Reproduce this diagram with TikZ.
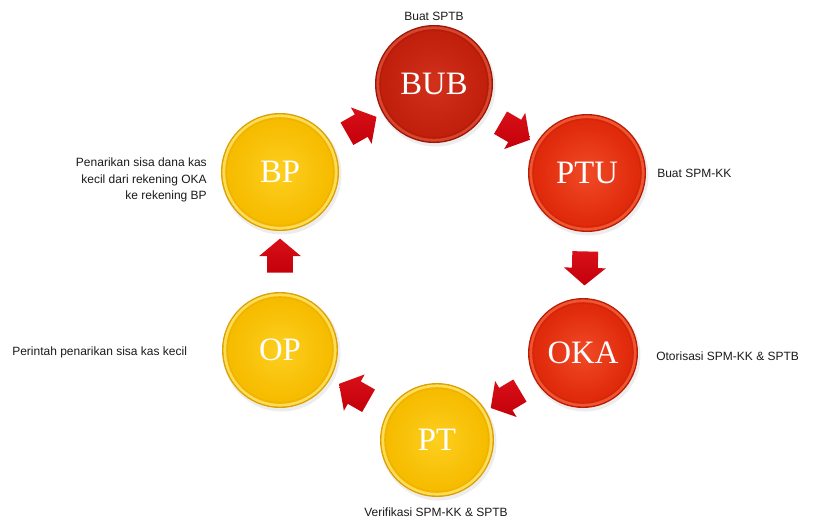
\documentclass[tikz,border=0pt]{standalone}
\usepackage{fontspec}
\setmainfont{Liberation Sans}
\newfontfamily\btnfont{Liberation Serif}
\usetikzlibrary{shapes.arrows,calc}
\pgfdeclarelayer{background}
\pgfsetlayers{background,main}

% button colours: A centre, B face, C inner shadow, D bevel light, E outer edge
\definecolor{bubA}{HTML}{D2321C}
\definecolor{bubB}{HTML}{C0200C}
\definecolor{bubC}{HTML}{A61806}
\definecolor{bubD}{HTML}{D8442C}
\definecolor{bubE}{HTML}{9A1608}
\definecolor{redA}{HTML}{F04A26}
\definecolor{redB}{HTML}{E02A0C}
\definecolor{redC}{HTML}{C22008}
\definecolor{redD}{HTML}{F05430}
\definecolor{redE}{HTML}{B81C06}
\definecolor{yelA}{HTML}{FDCF20}
\definecolor{yelB}{HTML}{F6BC00}
\definecolor{yelC}{HTML}{E6A600}
\definecolor{yelD}{HTML}{FDDC58}
\definecolor{yelE}{HTML}{DCA000}
\definecolor{arrowred}{HTML}{C4000A}
\definecolor{arrowlight}{HTML}{D81018}
\definecolor{labeltext}{HTML}{1A1A1A}

\begin{document}
\begin{tikzpicture}[x=0.75pt,y=-0.75pt,
  button/.style={circle, inner sep=0pt, minimum size=#1*0.75pt,
    text=white, font=\btnfont\fontsize{24.5}{26}\selectfont},
  blockarrow/.style={single arrow, draw=none,
    top color=arrowlight, bottom color=arrowred, shading angle=0,
    inner xsep=0pt, inner ysep=9.5pt, minimum height=25.5pt,
    single arrow head extend=6pt, single arrow tip angle=100},
  caption/.style={font=\fontsize{9}{12}\selectfont, text=labeltext,
    inner sep=0pt, align=#1},
  caption/.default=center]

\useasboundingbox (0,0) rectangle (816,522);

% process steps
\node[button=118] (bub) at (434,84)  {BUB};
\node[button=118] (ptu) at (587,173) {PTU};
\node[button=110] (oka) at (583,353) {OKA};
\node[button=114] (pt)  at (437,440) {PT};
\node[button=116] (op)  at (280,350) {OP};
\node[button=118] (bp)  at (280,172) {BP};

% button faces with bevelled rim
\begin{pgfonlayer}{background}
\foreach \n/\r/\k in {bub/59/bub, ptu/59/red, oka/55/red,
                      pt/57/yel, op/58/yel, bp/59/yel} {
  \fill[black, opacity=0.07] ($(\n)+(1.5,2.5)$) circle[radius=\r+1];
  \fill[\k E] (\n) circle[radius=\r];
  \fill[\k D] (\n) circle[radius=\r-1.4];
  \fill[\k B] (\n) circle[radius=\r-4.2];
  \shade[inner color=\k A, outer color=\k B] (\n) circle[radius=\r-9];
  \draw[\k C, line width=1.2pt, opacity=0.4] (\n) circle[radius=\r-5.2];
}
\end{pgfonlayer}

% block arrows half way between consecutive steps
\foreach \a/\b in {bub/ptu, ptu/oka, oka/pt, pt/op, op/bp, bp/bub}
  \path let \p1=(\a.center), \p2=(\b.center),
            \n1={atan2(\y2-\y1,\x2-\x1)} in
    node[blockarrow, rotate=\n1] (arr-\a) at ($(\p1)!0.5!(\p2)$) {};

% step descriptions
\node[caption] (t-bub) at (434,16) {Buat SPTB};
\node[caption, anchor=west] (t-ptu) at (657,173) {Buat SPM-KK};
\node[caption, anchor=west] (t-oka) at (656,356) {Otorisasi SPM-KK \& SPTB};
\node[caption] (t-pt) at (436,512) {Verifikasi SPM-KK \& SPTB};
\node[caption, anchor=west] (t-op) at (12,352) {Perintah penarikan sisa kas kecil};
\node[caption=right, anchor=east, font=\fontsize{9}{12.2}\selectfont]
  (t-bp) at (207,180) {Penarikan sisa dana kas\\kecil dari rekening OKA\\ke rekening BP};
\end{tikzpicture}
\end{document}
